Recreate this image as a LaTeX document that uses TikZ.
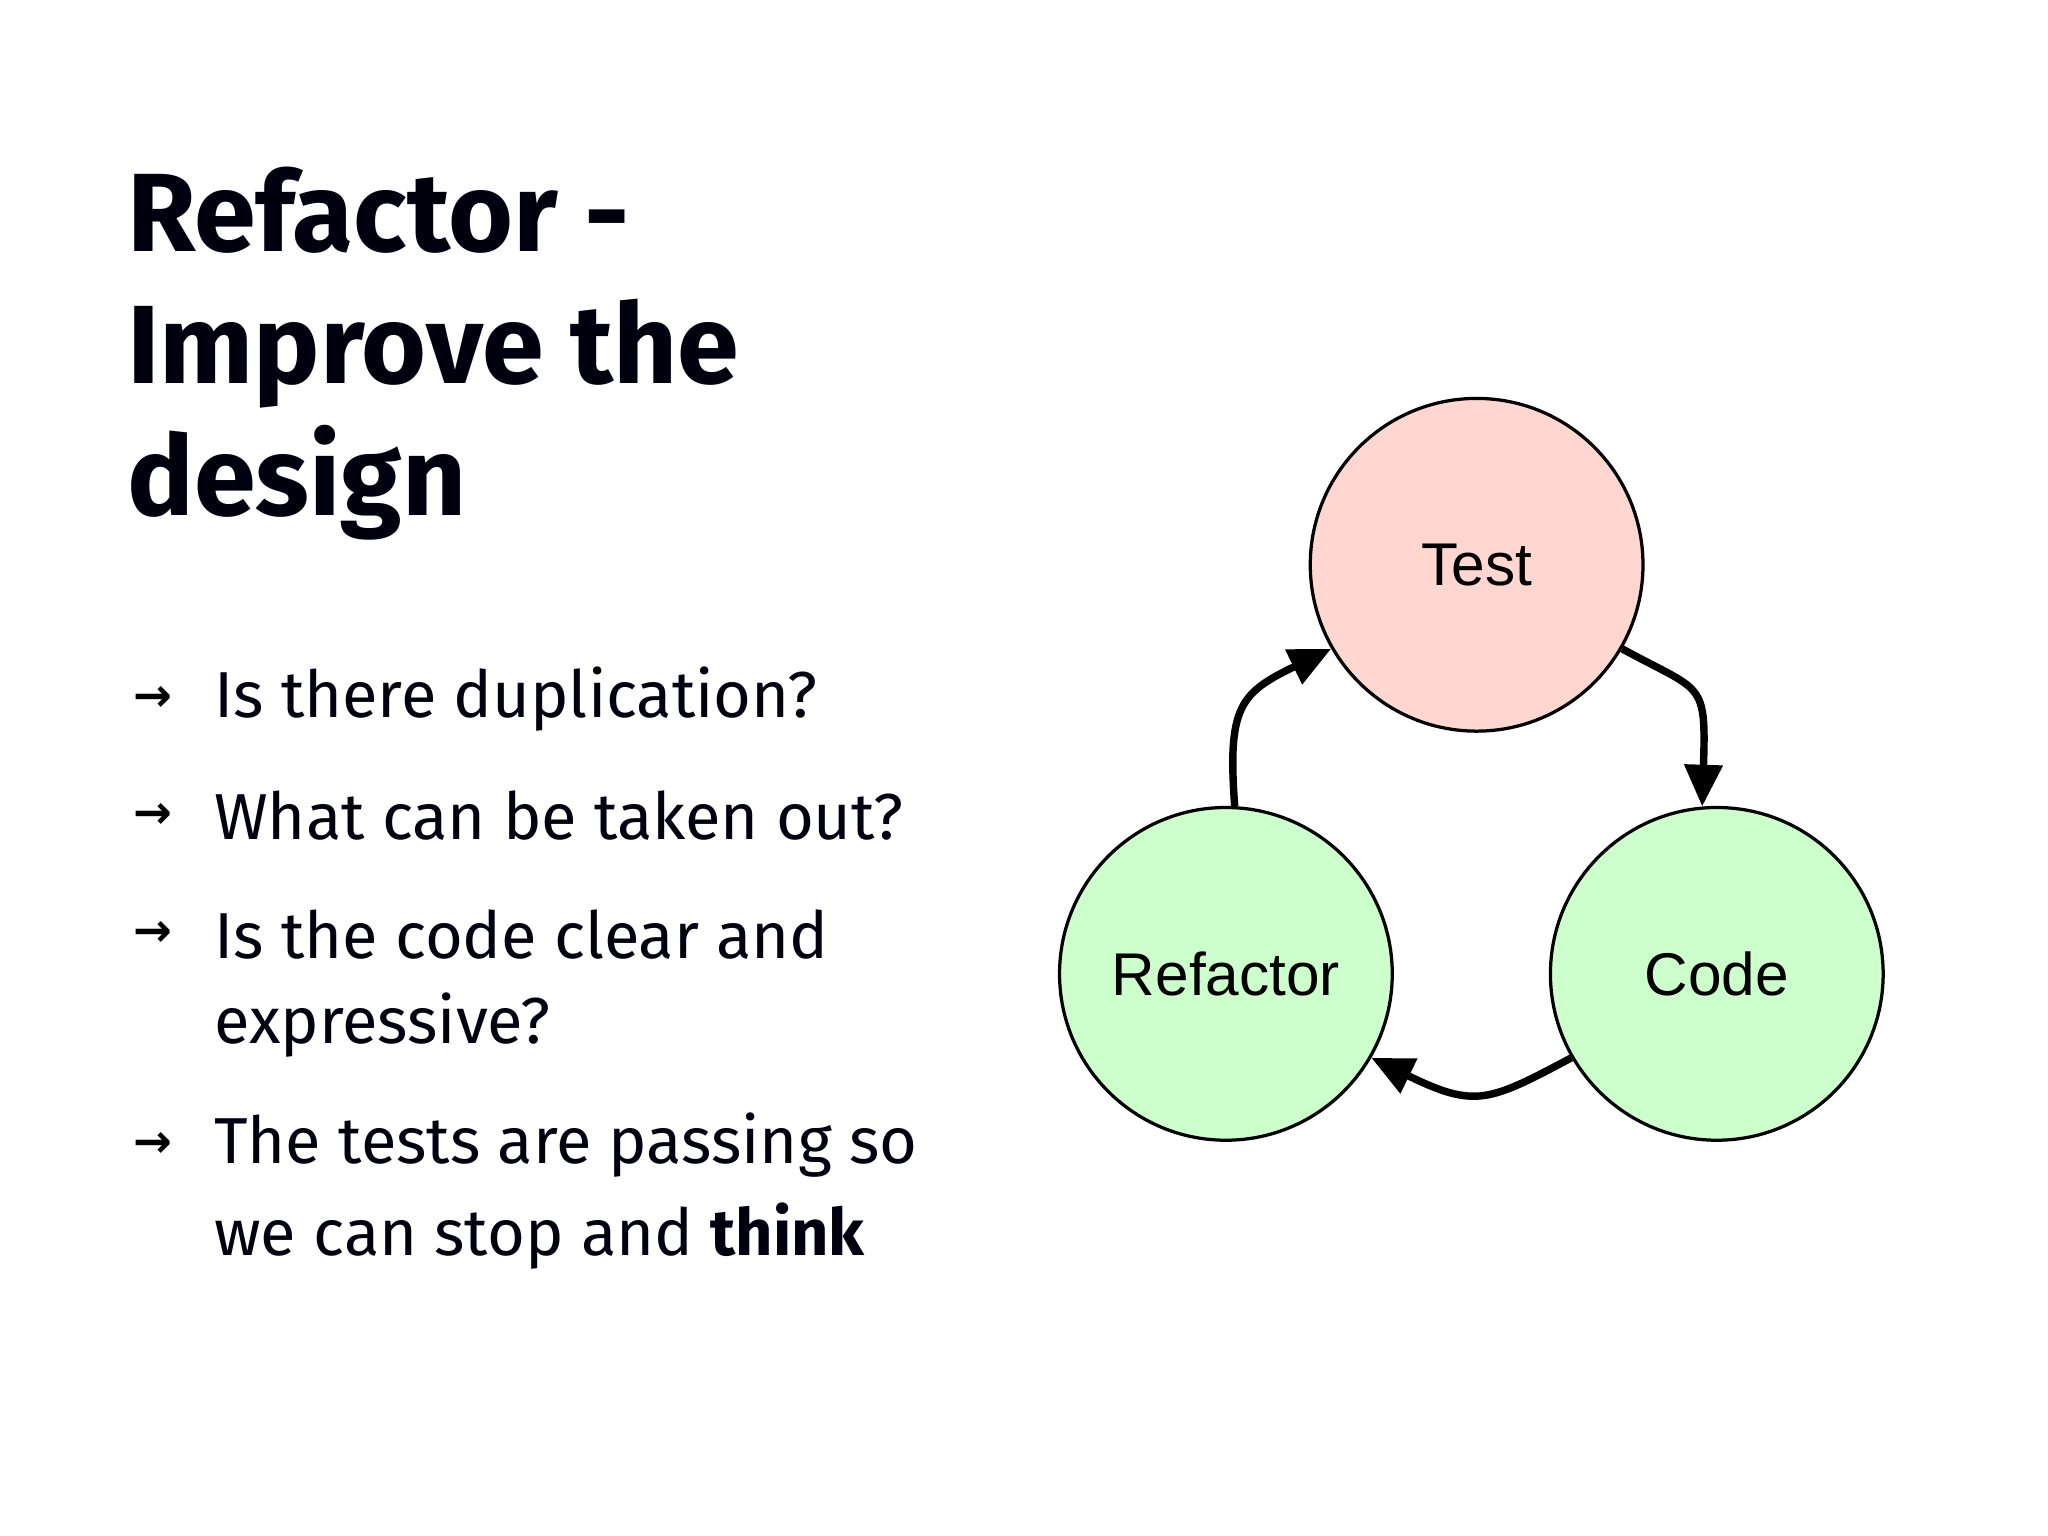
\documentclass[tikz,border=0pt]{standalone}
\usepackage{fontspec}
\setmainfont{Fira Sans}
\newfontfamily\circfont{Liberation Sans}
\newfontfamily\symfont{DejaVu Sans}
\usetikzlibrary{arrows.meta}
\begin{document}
\begin{tikzpicture}[x=0.01cm,y=-0.01cm,
  stage/.style={circle,draw=black,line width=0.7pt,minimum size=2.52cm,inner sep=0pt,font=\circfont\fontsize{13pt}{15pt}\selectfont},
  flow/.style={line width=1.6pt,-{Triangle[length=9pt,width=8pt]}},
  bul/.style={anchor=west,font=\fontsize{14pt}{20pt}\selectfont,text=black!85!blue!40!black,align=left}]
\useasboundingbox (0,0) rectangle (1552,1164);
\node[anchor=north west,align=left,font=\bfseries\fontsize{24pt}{28.5pt}\selectfont,text=black!85!blue!40!black] (title) at (84,114) {Refactor -\\Improve the\\design};
\foreach \y/\t [count=\i] in {530/{Is there duplication?},618/{What can be taken out?},708/{Is the code clear and},868/{The tests are passing so}}{
  \node[font=\symfont\bfseries\fontsize{10pt}{12pt}\selectfont] (m\i) at (116,\y) {→};
  \node[bul] (b\i) at (150,\y) {\t};
}
\node[bul] (b3b) at (150,777) {expressive?};
\node[bul] (b4b) at (150,937) {we can stop and \textbf{think}};
\node[stage,fill={rgb,255:red,255;green,214;blue,208}] (test) at (1119,428) {Test};
\node[stage,fill={rgb,255:red,204;green,255;blue,204}] (code) at (1301,738) {Code};
\node[stage,fill={rgb,255:red,204;green,255;blue,204}] (ref) at (929,738) {Refactor};
\draw[flow] (test.-30) .. controls (1290,525) and (1293,515) .. (code.95);
\draw[flow] (code.-150) .. controls (1128,835) and (1118,840) .. (ref.-30);
\draw[flow] (ref.87) .. controls (930,535) and (940,525) .. (test.-150);
\end{tikzpicture}
\end{document}
